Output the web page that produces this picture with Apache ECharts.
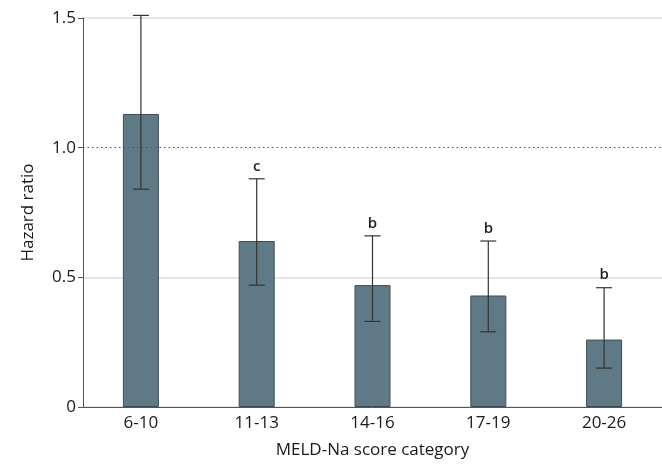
<!DOCTYPE html>
<html>
<head>
<meta charset="utf-8">
<script src="https://cdn.jsdelivr.net/npm/echarts@6/dist/echarts.min.js"></script>
<style>
html,body{margin:0;padding:0;background:#fff;}
#chart{width:662px;height:466px;}
</style>
</head>
<body>
<div id="chart"></div>
<script>
const categories = ['6-10', '11-13', '14-16', '17-19', '20-26'];
const hazardRatio = [1.13, 0.64, 0.47, 0.43, 0.26];
const ciLower = [0.84, 0.47, 0.33, 0.29, 0.15];
const ciUpper = [1.51, 0.88, 0.66, 0.64, 0.46];
const sigLetters = ['', 'c', 'b', 'b', 'b'];
const yTicks = [0, 0.5, 1.0, 1.5];

const FONT = '"Open Sans", "Noto Sans", sans-serif';
const chart = echarts.init(document.getElementById('chart'), null, {renderer: 'canvas'});

const errData = categories.map((c, i) => [i, ciLower[i], ciUpper[i], sigLetters[i]]);

chart.setOption({
  animation: false,
  backgroundColor: '#ffffff',
  grid: {left: 83, right: -11, top: 18, bottom: 59, containLabel: false},
  xAxis: {
    type: 'category',
    data: categories,
    name: 'MELD-Na score category',
    nameLocation: 'middle',
    nameGap: 35,
    nameTextStyle: {fontFamily: FONT, fontSize: 17, color: '#1a1a1a'},
    axisLine: {lineStyle: {color: '#555', width: 1}},
    axisTick: {show: false},
    axisLabel: {fontFamily: FONT, fontSize: 17, color: '#1a1a1a', margin: 8}
  },
  yAxis: {
    type: 'value',
    min: 0, max: 1.5, interval: 0.5,
    name: 'Hazard ratio',
    nameLocation: 'middle',
    nameGap: 46,
    nameTextStyle: {fontFamily: FONT, fontSize: 17, color: '#1a1a1a'},
    axisLine: {show: true, lineStyle: {color: '#555', width: 1}},
    axisTick: {show: true, length: 5, lineStyle: {color: '#555'}},
    axisLabel: {
      fontFamily: FONT, fontSize: 17, color: '#1a1a1a', margin: 7,
      formatter: v => {
        const idx = yTicks.findIndex(t => Math.abs(t - v) < 1e-9);
        return idx === 0 ? '0' : yTicks[idx].toFixed(1);
      }
    },
    splitLine: {show: true, lineStyle: {color: ['#dddddd', '#dddddd', 'rgba(0,0,0,0)', '#dddddd'], width: 1.5}}
  },
  series: [
    {
      type: 'bar',
      data: hazardRatio,
      barWidth: 36,
      itemStyle: {color: '#5f7a86', borderColor: '#3f4c53', borderWidth: 1},
      markLine: {
        silent: true,
        symbol: 'none',
        label: {show: false},
        lineStyle: {color: '#555', type: [1.5, 3], width: 1.2},
        data: [{yAxis: 1.0}]
      },
      z: 2
    },
    {
      type: 'custom',
      data: errData,
      z: 5,
      renderItem: function (params, api) {
        const x = api.value(0);
        const lo = api.coord([x, api.value(1)]);
        const hi = api.coord([x, api.value(2)]);
        const half = 8;
        const style = {stroke: '#333', lineWidth: 1.2};
        const children = [
          {type: 'line', shape: {x1: lo[0], y1: lo[1], x2: hi[0], y2: hi[1]}, style: style},
          {type: 'line', shape: {x1: hi[0] - half, y1: hi[1], x2: hi[0] + half, y2: hi[1]}, style: style},
          {type: 'line', shape: {x1: lo[0] - half, y1: lo[1], x2: lo[0] + half, y2: lo[1]}, style: style}
        ];
        const letter = sigLetters[params.dataIndex];
        if (letter) {
          children.push({
            type: 'text',
            style: {
              text: letter, x: hi[0], y: hi[1] - 5,
              textAlign: 'center', textVerticalAlign: 'bottom',
              fontFamily: FONT, fontSize: 15, fontWeight: 600, fill: '#222'
            }
          });
        }
        return {type: 'group', children: children};
      }
    }
  ]
});
</script>
</body>
</html>
